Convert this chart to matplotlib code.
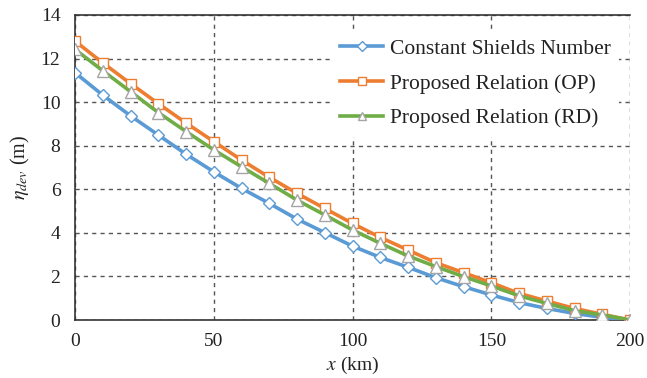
import matplotlib
matplotlib.use("Agg")
import matplotlib.pyplot as plt

x_km = [0, 10, 20, 30, 40, 50, 60, 70, 80, 90, 100, 110, 120, 130, 140, 150, 160, 170, 180, 190, 200]
constant_shields = [11.35, 10.32, 9.37, 8.49, 7.61, 6.80, 6.04, 5.35, 4.63, 4.01, 3.39, 2.87, 2.42, 1.94, 1.53, 1.15, 0.80, 0.53, 0.30, 0.12, 0.0]
proposed_op = [12.80, 11.80, 10.85, 9.93, 9.04, 8.19, 7.34, 6.55, 5.81, 5.12, 4.43, 3.79, 3.21, 2.63, 2.17, 1.71, 1.22, 0.87, 0.53, 0.26, 0.0]
proposed_rd = [12.42, 11.44, 10.48, 9.52, 8.65, 7.81, 7.03, 6.27, 5.50, 4.82, 4.13, 3.52, 2.94, 2.45, 1.99, 1.56, 1.11, 0.76, 0.43, 0.23, 0.0]
labels = ["Constant Shields Number", "Proposed Relation (OP)", "Proposed Relation (RD)"]
xticks = [0, 50, 100, 150, 200]
yticks = [0, 2, 4, 6, 8, 10, 12, 14]

plt.rcParams['font.family'] = ['Liberation Serif', 'DejaVu Serif']
plt.rcParams['mathtext.fontset'] = 'stix'

fig = plt.figure(figsize=(6.47, 3.78), dpi=100)
ax = fig.add_axes([0.116, 0.1534, 0.858, 0.807])

ax.plot(x_km, constant_shields, color='#5B9BD5', lw=2.6, marker='D', ms=6,
        mfc='white', mec='#5B9BD5', mew=1.0, label=labels[0], zorder=3)
ax.plot(x_km, proposed_op, color='#ED7D31', lw=2.6, marker='s', ms=7.5,
        mfc='white', mec='#ED7D31', mew=1.0, label=labels[1], zorder=3)
ax.plot(x_km, proposed_rd, color='#70AD47', lw=2.6, marker='^', ms=8,
        mfc='white', mec='#A5A5A5', mew=1.0, label=labels[2], zorder=4)

ax.set_xlim(0, 200)
ax.set_ylim(0, 14)
ax.set_xticks(xticks)
ax.set_yticks(yticks)
ax.tick_params(length=0, labelsize=14, colors='#222222')
ax.tick_params(axis='x', pad=9)
ax.tick_params(axis='y', pad=10.5)
ax.grid(True, linestyle=(0, (3, 3)), color='#555555', lw=1.0)
ax.set_axisbelow(True)
for s in ['left', 'bottom', 'top']:
    ax.spines[s].set_color('#333333')
    ax.spines[s].set_linewidth(1.2)
ax.spines['right'].set_visible(False)

ax.set_xlabel(r'$x$ (km)', fontsize=14, color='#222222', labelpad=4)
ax.set_ylabel(r'$\eta_{dev}$ (m)', fontsize=14.5, color='#222222', labelpad=6)

leg = ax.legend(loc='upper right', bbox_to_anchor=(1.0, 0.985), fontsize=15.5,
                frameon=True, fancybox=False, edgecolor='none', framealpha=1.0,
                handlelength=2.0, handletextpad=0.3, labelspacing=0.68, borderpad=0.4,
                markerscale=0.8)
for t in leg.get_texts():
    t.set_color('#222222')

fig.savefig('out.png', dpi=100)
